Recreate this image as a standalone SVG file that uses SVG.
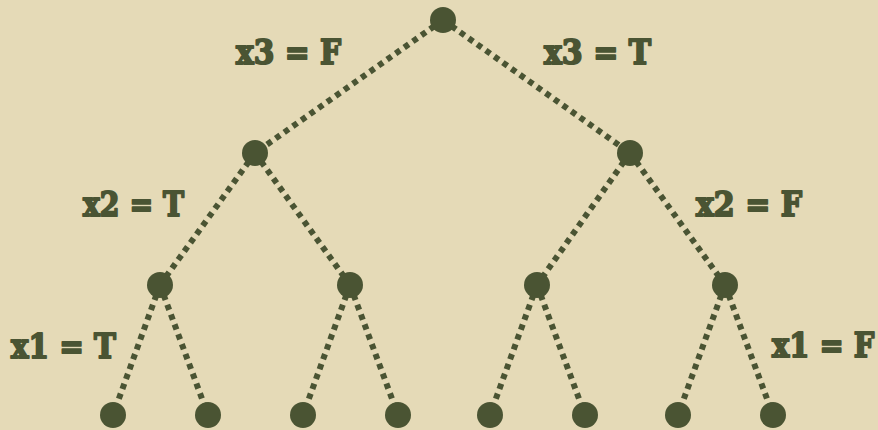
<svg xmlns="http://www.w3.org/2000/svg" width="878" height="430" viewBox="0 0 878 430">
<style>
.e{stroke:#4a5433;stroke-width:6;stroke-dasharray:5.5 5;fill:none}
.n{fill:#4a5433}
.t{font-family:"DejaVu Serif",serif;font-weight:bold;font-size:34px;fill:#4a5433;stroke:#4a5433;stroke-width:2;stroke-linejoin:round}
</style>
<rect width="878" height="430" fill="#e5dab7"/>
<g id="edges">
<line class="e" x1="443" y1="20" x2="255" y2="153"/>
<line class="e" x1="443" y1="20" x2="630" y2="153"/>
<line class="e" x1="255" y1="153" x2="160" y2="285"/>
<line class="e" x1="255" y1="153" x2="350" y2="285"/>
<line class="e" x1="630" y1="153" x2="537" y2="285"/>
<line class="e" x1="630" y1="153" x2="725" y2="285"/>
<line class="e" x1="160" y1="285" x2="113" y2="415"/>
<line class="e" x1="160" y1="285" x2="208" y2="415"/>
<line class="e" x1="350" y1="285" x2="303" y2="415"/>
<line class="e" x1="350" y1="285" x2="398" y2="415"/>
<line class="e" x1="537" y1="285" x2="490" y2="415"/>
<line class="e" x1="537" y1="285" x2="585" y2="415"/>
<line class="e" x1="725" y1="285" x2="678" y2="415"/>
<line class="e" x1="725" y1="285" x2="773" y2="415"/>
</g>
<g id="root"><circle class="n" cx="443" cy="20" r="13"/></g>
<g id="n1"><circle class="n" cx="255" cy="153" r="13"/></g>
<g id="n2"><circle class="n" cx="630" cy="153" r="13"/></g>
<g id="n3"><circle class="n" cx="160" cy="285" r="13"/></g>
<g id="n4"><circle class="n" cx="350" cy="285" r="13"/></g>
<g id="n5"><circle class="n" cx="537" cy="285" r="13"/></g>
<g id="n6"><circle class="n" cx="725" cy="285" r="13"/></g>
<g id="l1"><circle class="n" cx="113" cy="415" r="13"/></g>
<g id="l2"><circle class="n" cx="208" cy="415" r="13"/></g>
<g id="l3"><circle class="n" cx="303" cy="415" r="13"/></g>
<g id="l4"><circle class="n" cx="398" cy="415" r="13"/></g>
<g id="l5"><circle class="n" cx="490" cy="415" r="13"/></g>
<g id="l6"><circle class="n" cx="585" cy="415" r="13"/></g>
<g id="l7"><circle class="n" cx="678" cy="415" r="13"/></g>
<g id="l8"><circle class="n" cx="773" cy="415" r="13"/></g>
<g id="labels">
<text class="t" x="236" y="64" textLength="105" lengthAdjust="spacingAndGlyphs">x3 = F</text>
<text class="t" x="544" y="64" textLength="107" lengthAdjust="spacingAndGlyphs">x3 = T</text>
<text class="t" x="83" y="216" textLength="101" lengthAdjust="spacingAndGlyphs">x2 = T</text>
<text class="t" x="696" y="216" textLength="106" lengthAdjust="spacingAndGlyphs">x2 = F</text>
<text class="t" x="11" y="358" textLength="105" lengthAdjust="spacingAndGlyphs">x1 = T</text>
<text class="t" transform="translate(772,357) scale(0.85,1)">x1 = F</text>
</g>
</svg>
